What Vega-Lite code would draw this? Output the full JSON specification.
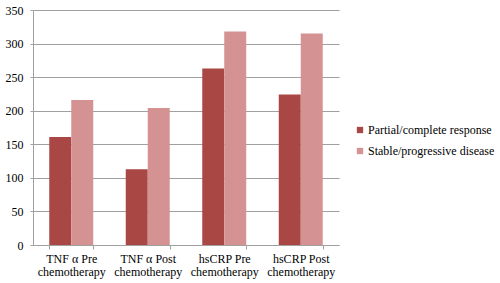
{
  "$schema": "https://vega.github.io/schema/vega-lite/v6.json",
  "width": 306,
  "height": 235,
  "autosize": {"type": "none"},
  "padding": {"left": 33, "top": 10, "right": 161, "bottom": 38},
  "background": "white",
  "data": {
    "values": [
      {"cat": "TNF α Pre|chemotherapy", "group": "Partial/complete response", "value": 161},
      {"cat": "TNF α Pre|chemotherapy", "group": "Stable/progressive disease", "value": 216},
      {"cat": "TNF α Post|chemotherapy", "group": "Partial/complete response", "value": 113},
      {"cat": "TNF α Post|chemotherapy", "group": "Stable/progressive disease", "value": 204},
      {"cat": "hsCRP Pre|chemotherapy", "group": "Partial/complete response", "value": 263},
      {"cat": "hsCRP Pre|chemotherapy", "group": "Stable/progressive disease", "value": 318},
      {"cat": "hsCRP Post|chemotherapy", "group": "Partial/complete response", "value": 224},
      {"cat": "hsCRP Post|chemotherapy", "group": "Stable/progressive disease", "value": 315}
    ]
  },
  "config": {
    "view": {"stroke": null},
    "font": "Liberation Serif, Times New Roman, serif"
  },
  "mark": {"type": "bar"},
  "encoding": {
    "x": {
      "field": "cat",
      "type": "nominal",
      "sort": null,
      "title": null,
      "scale": {"paddingInner": 0.425, "paddingOuter": 0.2125},
      "axis": {
        "labelAngle": 0,
        "labelExpr": "isValid(datum.value) ? split(datum.value, '|') : ''",
        "labelFont": "Liberation Serif, Times New Roman, serif",
        "labelFontSize": 12,
        "labelColor": "black",
        "labelLineHeight": 13.5,
        "labelPadding": 4,
        "tickBand": "extent",
        "tickColor": "#A0A0A0",
        "tickSize": 4,
        "domainColor": "#A0A0A0",
        "grid": false
      }
    },
    "xOffset": {"field": "group", "type": "nominal"},
    "y": {
      "field": "value",
      "type": "quantitative",
      "title": null,
      "scale": {"domain": [0, 350]},
      "axis": {
        "values": [0, 50, 100, 150, 200, 250, 300, 350],
        "labelFont": "Liberation Serif, Times New Roman, serif",
        "labelFontSize": 12,
        "labelColor": "black",
        "labelPadding": 7,
        "tickSize": 3,
        "tickColor": "#A0A0A0",
        "domainColor": "#A0A0A0",
        "gridColor": "#A0A0A0",
        "gridWidth": 1
      }
    },
    "color": {
      "field": "group",
      "type": "nominal",
      "title": null,
      "scale": {
        "domain": ["Partial/complete response", "Stable/progressive disease"],
        "range": ["#A94745", "#D49293"]
      },
      "legend": {
        "orient": "none",
        "legendX": 321,
        "legendY": 114,
        "symbolType": "square",
        "symbolSize": 40,
        "symbolStrokeWidth": 0,
        "labelFont": "Liberation Serif, Times New Roman, serif",
        "labelFontSize": 12,
        "labelColor": "black",
        "labelOffset": 2,
        "rowPadding": 9,
        "labelLimit": 300
      }
    }
  }
}
